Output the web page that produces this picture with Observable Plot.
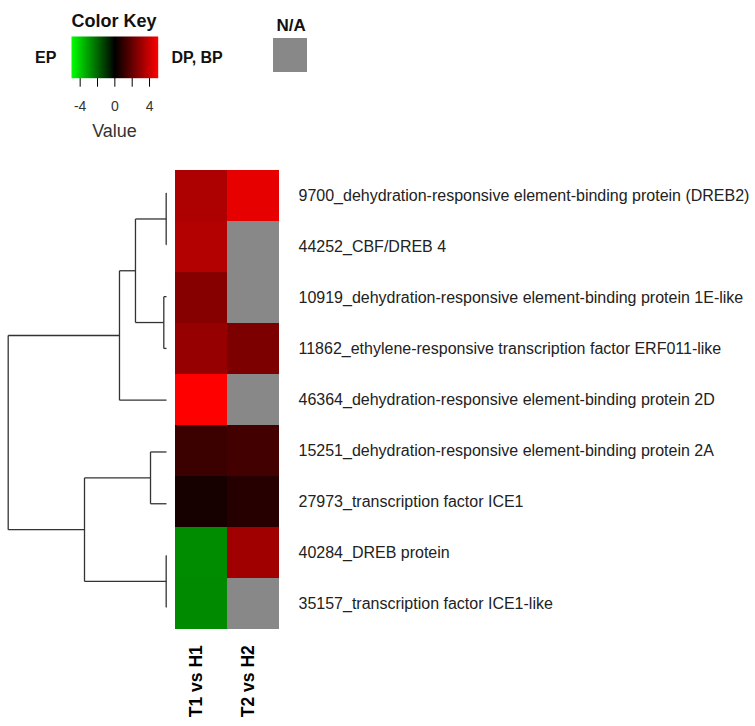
<!DOCTYPE html>
<html>
<head>
<meta charset="utf-8">
<script src="https://cdn.jsdelivr.net/npm/d3@7"></script>
<script src="https://cdn.jsdelivr.net/npm/@observablehq/plot@0.6"></script>
<style>
  html, body { margin: 0; padding: 0; background: #fff; }
  #root { position: relative; width: 755px; height: 726px; overflow: hidden; font-family: "Liberation Sans", Arial, sans-serif; }
  #root > * { position: absolute; }
  .lbl { line-height: 1; white-space: nowrap; color: #111; }
  .bold { font-weight: bold; }
</style>
</head>
<body>
<div id="root"></div>
<script>
// ---------------- DATA ----------------
const columns = ["T1 vs H1", "T2 vs H2"];
const rows = [
  "9700_dehydration-responsive element-binding protein (DREB2)",
  "44252_CBF/DREB 4",
  "10919_dehydration-responsive element-binding protein 1E-like",
  "11862_ethylene-responsive transcription factor ERF011-like",
  "46364_dehydration-responsive element-binding protein 2D",
  "15251_dehydration-responsive element-binding protein 2A",
  "27973_transcription factor ICE1",
  "40284_DREB protein",
  "35157_transcription factor ICE1-like"
];
// log fold values (null = N/A)
const t1vsH1 = [3.4, 3.5, 2.65, 2.95, 5.0, 1.15, 0.45, -2.75, -2.7];
const t2vsH2 = [4.5, null, null, 2.45, null, 1.3, 0.75, 3.15, null];

// dendrogram (hclust-style merges: leaf = row index, node = merge number 1-based)
const mergeLeft  = [0, 2, 7, 5, 1, 5, 4, 6];
const mergeRight = [1, 3, 8, 6, 2, 4, 3, 7];
const mergeIsLeafL = [true, true, true, true, false, false, false, false];
const mergeIsLeafR = [true, true, true, true, false, true, false, false];
const mergeHeight = [0.02, 0.17, 0.02, 1.01, 1.96, 2.97, 5.18, 10];

// colour key
const keyDomain = [-5, 0, 5];
const keyColors = ["#00ff00", "#000000", "#ff0000"];
const keyTicks = [-4, -2, 0, 2, 4];
const keyTickLabels = [-4, 0, 4];
const naColor = "#888888";

// ---------------- LAYOUT ----------------
const W = 755, H = 726;
const top0 = 166.7, bottom0 = 93.3;
const root = document.getElementById("root");
const colorScale = {type: "linear", domain: keyDomain, range: keyColors, interpolate: "rgb"};

// heatmap table
const cells = [];
rows.forEach((r, i) => {
  cells.push({row: r, col: columns[0], value: t1vsH1[i]});
  cells.push({row: r, col: columns[1], value: t2vsH2[i]});
});

const heat = Plot.plot({
  width: W, height: H,
  marginLeft: 174, marginRight: W - 279, marginTop: top0, marginBottom: bottom0,
  style: {fontFamily: "'Liberation Sans', Arial, sans-serif", background: "transparent", overflow: "visible"},
  x: {type: "band", domain: columns, padding: 0, axis: null},
  y: {type: "band", domain: rows, padding: 0, axis: null},
  color: colorScale,
  marks: [
    Plot.cell(cells.filter(d => d.value == null), {x: "col", y: "row", fill: naColor}),
    Plot.cell(cells.filter(d => d.value != null), {x: "col", y: "row", fill: "value"}),
    Plot.text(rows, {y: d => d, frameAnchor: "right", textAnchor: "start", dx: 19, fontSize: 16, fill: "#222"}),
    Plot.text(columns, {x: d => d, frameAnchor: "bottom", rotate: -90, textAnchor: "end", dy: 12, fontSize: 17.5, fontWeight: "bold", fill: "#000"})
  ]
});
heat.style.left = "0px"; heat.style.top = "0px";
root.appendChild(heat);

// dendrogram segments from merges
const nodeY = [], nodeH = [];
const childPos = (isLeaf, v) => isLeaf ? {y: v, h: 0} : {y: nodeY[v - 1], h: nodeH[v - 1]};
const segs = [];
mergeHeight.forEach((h, k) => {
  const a = childPos(mergeIsLeafL[k], mergeLeft[k]);
  const b = childPos(mergeIsLeafR[k], mergeRight[k]);
  nodeY[k] = (a.y + b.y) / 2; nodeH[k] = h;
  segs.push({x1: h, y1: a.y, x2: h, y2: b.y});
  segs.push({x1: a.h, y1: a.y, x2: h, y2: a.y});
  segs.push({x1: b.h, y1: b.y, x2: h, y2: b.y});
});
const dendro = Plot.plot({
  width: 174, height: H,
  marginLeft: 7.7, marginRight: 8, marginTop: top0, marginBottom: bottom0,
  style: {background: "transparent"},
  x: {type: "linear", domain: [10, 0], axis: null},
  y: {type: "linear", domain: [-0.5, rows.length - 0.5], reverse: true, axis: null},
  marks: [
    Plot.link(segs, {x1: "x1", y1: "y1", x2: "x2", y2: "y2", stroke: "#333", strokeWidth: 1.3})
  ]
});
dendro.style.left = "0px"; dendro.style.top = "0px";
root.appendChild(dendro);

// colour key
const keyMarks = [];
if (Plot.raster) {
  keyMarks.push(Plot.raster({fill: (x, y) => x, x1: -5, x2: 5, y1: 0, y2: 1, width: 200, height: 1, imageRendering: "auto"}));
} else {
  const steps = d3.range(-5, 5, 0.05);
  keyMarks.push(Plot.rect(steps, {x1: d => d, x2: d => d + 0.05, y1: 0, y2: 1, fill: d => d + 0.025}));
}
const key = Plot.plot({
  width: 320, height: 150,
  marginLeft: 71, marginRight: 320 - 157.7, marginTop: 36, marginBottom: 150 - 77.7,
  style: {fontFamily: "'Liberation Sans', Arial, sans-serif", fontSize: "14px", color: "#000", background: "transparent", overflow: "visible"},
  x: {type: "linear", domain: [-5, 5], ticks: keyTicks, tickSize: 9, tickPadding: 14,
      tickFormat: d => keyTickLabels.includes(d) ? String(d) : "", label: null},
  y: {type: "linear", domain: [0, 1], axis: null},
  color: colorScale,
  marks: keyMarks
});
key.style.left = "0px"; key.style.top = "0px";
root.appendChild(key);
key.querySelectorAll("g[aria-label^='x-axis']").forEach(g => { g.setAttribute("font-size", 14); g.style.fontSize = "14px"; });
key.querySelectorAll("g[aria-label^='x-axis'] text").forEach(t => { t.setAttribute("fill", "#333"); t.style.fontSize = "14px"; });

function label(text, left, top, size, bold, color) {
  const d = document.createElement("div");
  d.className = "lbl" + (bold ? " bold" : "");
  d.textContent = text;
  d.style.left = left + "px"; d.style.top = top + "px";
  d.style.fontSize = size + "px";
  if (color) d.style.color = color;
  root.appendChild(d);
  return d;
}
label("Color Key", 71.5, 12.2, 18, true);
label("EP", 35, 49.5, 16, true);
label("DP, BP", 171.5, 49.5, 16, true);
label("N/A", 276.5, 16.7, 17, true);
const v = label("Value", 0, 122.4, 18, false, "#333");
v.style.left = (114.5 - v.getBoundingClientRect().width / 2) + "px";
const na = document.createElement("div");
na.style.left = "272.7px"; na.style.top = "38.3px"; na.style.width = "34.6px"; na.style.height = "33.4px";
na.style.background = naColor;
root.appendChild(na);
</script>
</body>
</html>
